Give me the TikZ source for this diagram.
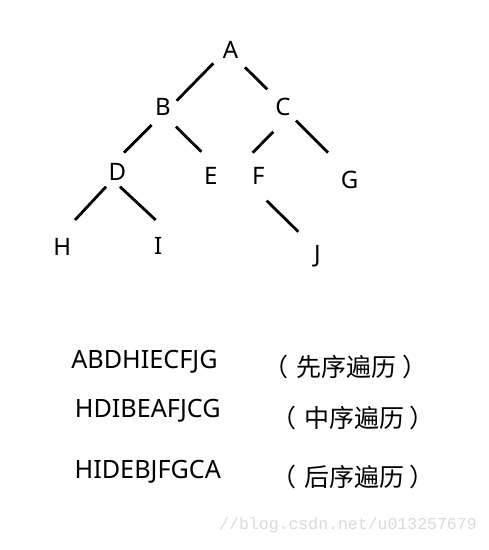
\documentclass[tikz,border=0pt]{standalone}
\usepackage{fontspec}
\setmainfont{Noto Sans}
\newfontfamily\cjk{Noto Sans CJK SC}
\newfontfamily\wmfont{Liberation Mono}
\definecolor{wmgray}{RGB}{218,218,218}
\begin{document}
\begin{tikzpicture}[x=1pt,y=-1pt,
  lbl/.style={inner sep=0pt,font=\fontsize{24}{24}\selectfont},
  seq/.style={inner sep=0pt,font=\fontsize{25.2}{25.2}\selectfont},
  cn/.style={inner sep=0pt,font=\cjk\fontsize{25}{25}\selectfont},
  edge/.style={line width=2.8pt},
  wm/.style={inner sep=0pt,text=wmgray,font=\wmfont\fontsize{16.5}{16.5}\selectfont}]
\useasboundingbox[fill=white] (0,0) rectangle (489,550);
% tree nodes
\node[lbl] (A) at (230.5,50) {A};
\node[lbl] (B) at (163,106.7) {B};
\node[lbl] (C) at (283,107.3) {C};
\node[lbl] (D) at (117.3,171.7) {D};
\node[lbl] (E) at (210.7,175.7) {E};
\node[lbl] (F) at (258.3,175.7) {F};
\node[lbl] (G) at (349.7,180) {G};
\node[lbl] (H) at (62.3,247) {H};
\node[lbl] (I) at (158.3,245.7) {I};
\node[lbl] (J) at (317.3,256.7) {J};
% connector end points
\coordinate (ab1) at (213.3,63.3);  \coordinate (ab2) at (176.7,100.7);
\coordinate (ac1) at (245,67.3);    \coordinate (ac2) at (267.3,89.3);
\coordinate (bd1) at (151.7,125);   \coordinate (bd2) at (124,152.7);
\coordinate (be1) at (176,126.7);   \coordinate (be2) at (201.3,151.7);
\coordinate (cf1) at (273.3,131.7); \coordinate (cf2) at (252.7,152.7);
\coordinate (cg1) at (296,120.7);   \coordinate (cg2) at (328,152.7);
\coordinate (dh1) at (106,186.7);   \coordinate (dh2) at (75,220);
\coordinate (di1) at (120,186.7);   \coordinate (di2) at (155.7,220);
\coordinate (fj1) at (266.7,200.7); \coordinate (fj2) at (298.3,231.7);
\draw[edge] (ab1) -- (ab2);
\draw[edge] (ac1) -- (ac2);
\draw[edge] (bd1) -- (bd2);
\draw[edge] (be1) -- (be2);
\draw[edge] (cf1) -- (cf2);
\draw[edge] (cg1) -- (cg2);
\draw[edge] (dh1) -- (dh2);
\draw[edge] (di1) -- (di2);
\draw[edge] (fj1) -- (fj2);
% traversal sequences
\node[seq] (pre) at (144.5,362.2) {ABDHIECFJG};
\node[seq] (in) at (147.8,410.3) {HDIBEAFJCG};
\node[seq] (post) at (147.8,472.2) {HIDEBJFGCA};
\node[cn] (prel) at (345,366.7) {（\hspace{8pt}先序遍历\hspace{6pt}）};
\node[cn] (inl) at (353,418.3) {（\hspace{8pt}中序遍历\hspace{6pt}）};
\node[cn] (postl) at (353,476.7) {（\hspace{8pt}后序遍历\hspace{6pt}）};
% watermark
\node[wm] (mark) at (348,525) {//blog.csdn.net/u013257679};
\end{tikzpicture}
\end{document}
